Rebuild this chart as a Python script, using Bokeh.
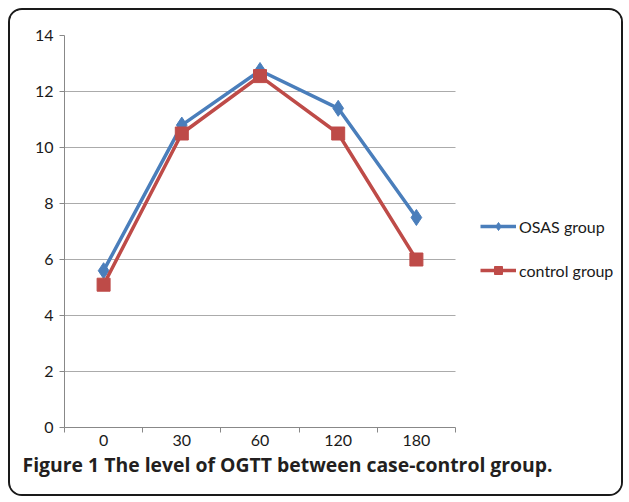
from bokeh.plotting import figure
from bokeh.models import Range1d, FixedTicker, Legend, LegendItem, Title
from bokeh.embed import file_html
from bokeh.resources import INLINE

categories = ["0", "30", "60", "120", "180"]
osas = [5.6, 10.8, 12.75, 11.4, 7.5]
control = [5.1, 10.5, 12.55, 10.5, 6.0]
y_ticks = [0, 2, 4, 6, 8, 10, 12, 14]
series_names = ["OSAS group", "control group"]
caption = "Figure 1 The level of OGTT between case-control group."

xs = [i + 0.5 for i in range(len(categories))]
bounds = list(range(len(categories) + 1))

TICK_FONT = "Lato"
BLUE = "#4a7ebb"
RED = "#be4b48"

W, H = 615, 488
LEFT, TOP, BOTTOM = 54, 25, 71
PLOT_W = 391                     # width of the category area
FRAME_W = W - LEFT               # frame runs to the right edge (legend lives inside)
n = len(categories)
x_end = n * FRAME_W / PLOT_W

p = figure(width=W, height=H, output_backend="svg", toolbar_location=None,
           x_range=Range1d(0, x_end), y_range=Range1d(0, 14),
           min_border_left=LEFT, min_border_right=0, min_border_top=TOP, min_border_bottom=BOTTOM)
p.styles = {"margin": "8px 0 0 8px", "border": "2px solid #1a1a1a", "border-radius": "14px",
            "overflow": "hidden"}
p.outline_line_color = None
p.background_fill_color = "white"
p.border_fill_color = "white"

# axes
p.xaxis.bounds = (0, n)
p.xaxis.ticker = FixedTicker(ticks=xs, minor_ticks=bounds)
p.xaxis.major_label_overrides = {x: c for x, c in zip(xs, categories)}
p.xaxis.major_tick_line_color = None
p.xaxis.minor_tick_in = 0
p.xaxis.minor_tick_out = 5
p.xaxis.minor_tick_line_color = "#888888"
p.xaxis.axis_line_color = "#888888"
p.xaxis.major_label_standoff = 1
p.yaxis.ticker = FixedTicker(ticks=y_ticks)
p.yaxis.major_tick_in = 0
p.yaxis.major_tick_out = 5
p.yaxis.major_tick_line_color = "#888888"
p.yaxis.minor_tick_line_color = None
p.yaxis.axis_line_color = "#888888"
p.yaxis.major_label_standoff = 6
for ax in (p.xaxis, p.yaxis):
    ax.major_label_text_font = TICK_FONT
    ax.major_label_text_font_size = "16px"
    ax.major_label_text_color = "#1a1a1a"

p.xgrid.visible = False
p.ygrid.ticker = FixedTicker(ticks=y_ticks)
p.ygrid.grid_line_color = "#ababab"
p.ygrid.grid_line_width = 1
if "cross_bounds" in p.ygrid[0].properties():
    p.ygrid.cross_bounds = (0, n)

# series
l1 = p.line(xs, osas, line_color=BLUE, line_width=3.5)
m1 = p.scatter(xs, osas, marker="diamond", size=16, fill_color=BLUE, line_color=BLUE)
l2 = p.line(xs, control, line_color=RED, line_width=3.5)
m2 = p.scatter(xs, control, marker="square", size=13, fill_color=RED, line_color=RED)

legend = Legend(items=[LegendItem(label=series_names[0], renderers=[l1, m1]),
                       LegendItem(label=series_names[1], renderers=[l2, m2])],
                location=(PLOT_W + 25, 147), orientation="vertical",
                glyph_width=36, glyph_height=20, label_height=20, spacing=24,
                padding=0, margin=0, label_standoff=3,
                border_line_color=None, background_fill_alpha=0,
                label_text_font=TICK_FONT, label_text_font_size="16px",
                label_text_color="#1a1a1a")
p.add_layout(legend, "center")

# caption
p.add_layout(Title(text=caption, align="left", offset=-42, standoff=0,
                   text_font="Open Sans", text_font_style="bold", text_font_size="19.4px",
                   text_color="#231f20"), "below")

open("out.html", "w").write(file_html(p, INLINE))
